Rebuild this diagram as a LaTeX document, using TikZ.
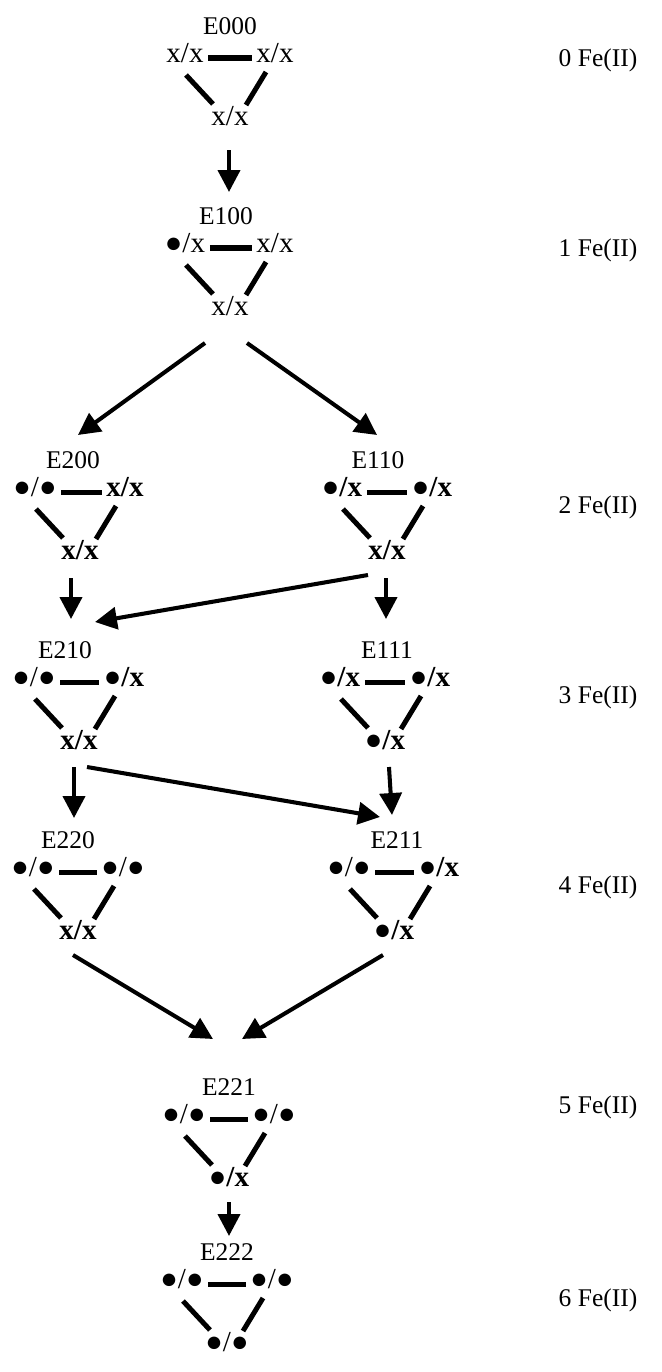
\documentclass[tikz,border=0pt]{standalone}
\usepackage{fontspec}
\setmainfont{Liberation Serif}
\usetikzlibrary{arrows.meta}

% #1 name, #2/#3 centre of the top row, #4 title shift, #5 title, #6 left, #7 right, #8 bottom
\newcommand{\fetri}[8]{%
 \node[ttl] (#1) at ({#2+#4},{#3-32}) {#5};
 \node[site] (#1-l) at ({#2-45},#3) {#6};
 \node[site] (#1-r) at ({#2+45},#3) {#7};
 \node[site] (#1-b) at (#2,{#3+63}) {#8};
 \draw[bar] (#1-l) -- (#1-r);
 \draw[bar] ([shift={(-44,-46)}]#1-b.center) -- ([shift={(-17,-17)}]#1-b.center);
 \draw[bar] ([shift={(36,-49)}]#1-b.center) -- ([shift={(16,-16)}]#1-b.center);
}

\begin{document}
\begin{tikzpicture}[x=0.02cm,y=-0.02cm,>={Triangle[length=12.5pt,width=12.5pt]},
 ttl/.style={inner sep=1pt,font=\fontsize{14.5pt}{17pt}\selectfont},
 site/.style={inner xsep=2.5pt,inner ysep=0pt,text height=1ex,text depth=0pt,font=\fontsize{16.5pt}{19pt}\selectfont},
 bar/.style={line width=2.85pt},
 arr/.style={->,line width=2.3pt},
 fe/.style={inner sep=1pt,font=\fontsize{14.5pt}{17pt}\selectfont}]
\useasboundingbox (0,0) rectangle (662,1372);
\fetri{e000}{230}{58}{0}{E000}{x/x}{x/x}{x/x}
\fetri{e100}{230}{248}{-4}{E100}{●/x}{x/x}{x/x}
\fetri{e200}{80}{492}{-7}{E200}{●/●}{\textbf{x/x}}{\textbf{x/x}}
\fetri{e110}{387}{492}{-9}{E110}{●\textbf{/x}}{●\textbf{/x}}{\textbf{x/x}}
\fetri{e210}{79}{682}{-14}{E210}{●/●}{●\textbf{/x}}{\textbf{x/x}}
\fetri{e111}{385}{682}{2}{E111}{●\textbf{/x}}{●\textbf{/x}}{●\textbf{/x}}
\fetri{e220}{78}{872}{-10}{E220}{●/●}{●/●}{\textbf{x/x}}
\fetri{e211}{394}{872}{3}{E211}{●/●}{●\textbf{/x}}{●\textbf{/x}}
\fetri{e221}{229}{1119}{0}{E221}{●/●}{●/●}{●\textbf{/x}}
\fetri{e222}{227}{1284}{0}{E222}{●/●}{●/●}{●/●}
% oxidation level
\node[fe] (fe0) at (598,60) {0 Fe(II)};
\node[fe] (fe1) at (598,250) {1 Fe(II)};
\node[fe] (fe2) at (598,507) {2 Fe(II)};
\node[fe] (fe3) at (598,697) {3 Fe(II)};
\node[fe] (fe4) at (598,887) {4 Fe(II)};
\node[fe] (fe5) at (598,1107) {5 Fe(II)};
\node[fe] (fe6) at (598,1300) {6 Fe(II)};
% steps
\draw[arr] ([shift={(-1,29)}]e000-b.center) -- ([shift={(3,-24)}]e100.center);
\draw[arr] ([shift={(-25,32)}]e100-b.center) -- ([shift={(5,-25)}]e200.center);
\draw[arr] ([shift={(17,32)}]e100-b.center) -- ([shift={(-1,-25)}]e110.center);
\draw[arr] ([shift={(-9,23)}]e200-b.center) -- ([shift={(6,-31)}]e210.center);
\draw[arr] ([shift={(-1,23)}]e110-b.center) -- ([shift={(-1,-31)}]e111.center);
\draw[arr] ([shift={(-19,20)}]e110-b.center) -- ([shift={(30,-28)}]e210.center);
\draw[arr] ([shift={(-5,22)}]e210-b.center) -- ([shift={(6,-22)}]e220.center);
\draw[arr] ([shift={(8,22)}]e210-b.center) -- ([shift={(-17,-23)}]e211.center);
\draw[arr] ([shift={(4,22)}]e111-b.center) -- ([shift={(-5,-25)}]e211.center);
\draw[arr] ([shift={(-5,20)}]e220-b.center) -- ([shift={(-16,-48)}]e221.center);
\draw[arr] ([shift={(-11,20)}]e211-b.center) -- ([shift={(13,-48)}]e221.center);
\draw[arr] ([shift={(0,20)}]e221-b.center) -- ([shift={(2,-16)}]e222.center);
\end{tikzpicture}
\end{document}
